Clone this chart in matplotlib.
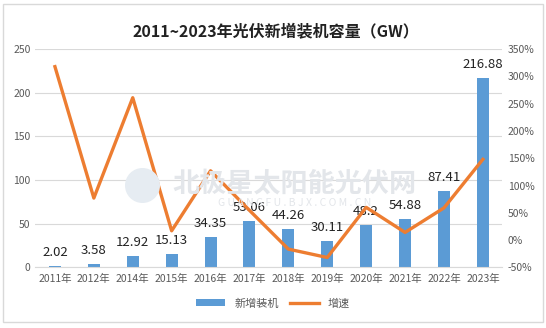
import matplotlib
matplotlib.use("Agg")
import matplotlib.pyplot as plt
from matplotlib.patches import Rectangle, Patch, Ellipse
from matplotlib.lines import Line2D
import numpy as np

plt.rcParams['font.family'] = ['Noto Sans CJK SC', 'DejaVu Sans']

# data
years = ['2011年', '2012年', '2014年', '2015年', '2016年', '2017年',
         '2018年', '2019年', '2020年', '2021年', '2022年', '2023年']
capacity = [2.02, 3.58, 12.92, 15.13, 34.35, 53.06, 44.26, 30.11, 48.2, 54.88, 87.41, 216.88]
growth = [318, 77, 261, 17, 127, 54.5, -16.6, -32, 60, 14, 59, 148]  # percent

bar_color = '#5b9bd5'
line_color = '#ed7d31'
tick_color = '#595959'

fig = plt.figure(figsize=(5.46, 3.28), dpi=100)
ax = fig.add_axes([0.065, 0.185, 0.855, 0.665])
x = np.arange(len(years))

ax.bar(x, capacity, width=0.31, color=bar_color, zorder=2)
for xi, v in zip(x, capacity):
    ax.text(xi, v + 8, f'{v:g}', ha='center', va='bottom', fontsize=9.5, color='#222222', zorder=4)

ax.set_ylim(0, 250)
ax.set_yticks(range(0, 251, 50))
ax.set_xlim(-0.5, len(years) - 0.5)
ax.set_xticks(x)
ax.set_xticklabels(years)
ax.grid(axis='y', color='#d9d9d9', linewidth=0.8, zorder=0)
ax.tick_params(axis='both', length=0, labelsize=7.5, colors=tick_color)
ax.tick_params(axis='x', pad=5)
for side in ['top', 'left', 'right']:
    ax.spines[side].set_visible(False)
ax.spines['bottom'].set_color('#d9d9d9')

ax2 = ax.twinx()
ax2.plot(x, growth, color=line_color, linewidth=2.4, zorder=3)
ax2.set_ylim(-50, 350)
ax2.set_yticks(range(-50, 351, 50))
ax2.set_yticklabels([f'{t}%' for t in range(-50, 351, 50)])
ax2.tick_params(axis='y', length=0, labelsize=7.5, colors=tick_color, pad=4)
for side in ['top', 'left', 'right', 'bottom']:
    ax2.spines[side].set_visible(False)

# faint watermark (logo + site name)
fig.patches.append(Ellipse((142.5 / 546, 1 - 185.5 / 328), 35 / 546, 35 / 328,
                           transform=fig.transFigure, facecolor='#e6ecf2', edgecolor='none', zorder=0))
fig.text(0.54, 0.44, '北极星太阳能光伏网', fontsize=19.5, fontweight='bold', color='#e3e6ea',
         ha='center', va='center', zorder=0)
fig.text(0.54, 0.38, 'G U A N G F U . B J X . C O M . C N', fontsize=7.5, color='#e3e6ea',
         ha='center', va='center', zorder=0)

fig.suptitle('2011~2023年光伏新增装机容量（GW）', x=0.505, y=0.93, fontsize=11.5,
             fontweight='bold', color='#222222')

handles = [Patch(facecolor=bar_color, label='新增装机'),
           Line2D([0], [0], color=line_color, linewidth=2.4, label='增速')]
fig.legend(handles=handles, loc='center', bbox_to_anchor=(0.50, 0.075), ncol=2,
           frameon=False, fontsize=8, handlelength=2.6, handleheight=0.6,
           columnspacing=1.0, labelcolor=tick_color)

fig.patches.append(Rectangle((0.006, 0.018), 0.988, 0.97, transform=fig.transFigure,
                             fill=False, edgecolor='#d9d9d9', linewidth=1))

fig.savefig('out.png', dpi=100)
